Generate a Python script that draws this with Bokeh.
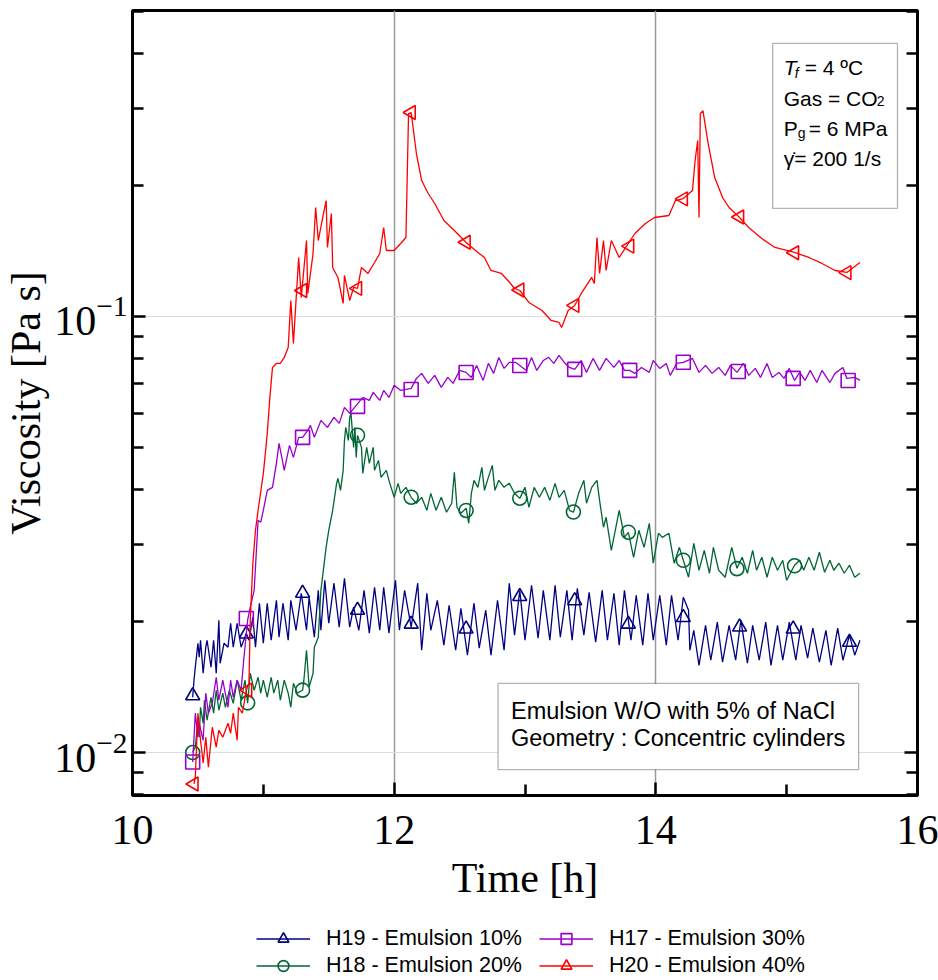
from bokeh.plotting import figure
from bokeh.layouts import column
from bokeh.models import (Range1d, FixedTicker, LogAxis, Legend, LegendItem,
                          Label, BoxAnnotation)
from bokeh.embed import file_html
from bokeh.resources import INLINE

# ---------------- data (time in h, viscosity in Pa s) ----------------
h19_t = [10.46, 10.47, 10.48, 10.50, 10.51, 10.52, 10.54, 10.56, 10.57, 10.60, 10.62, 10.64, 10.66, 10.67,
         10.70, 10.73, 10.75, 10.77, 10.80, 10.83, 10.87, 10.89, 10.92, 10.94, 10.97, 11.00, 11.03, 11.06,
         11.10, 11.12, 11.15, 11.19, 11.21, 11.25, 11.29, 11.33, 11.35, 11.39, 11.42, 11.44, 11.47, 11.50,
         11.54, 11.58, 11.62, 11.66, 11.69, 11.73, 11.77, 11.81, 11.85, 11.89, 11.92, 11.96, 12.01, 12.04,
         12.08, 12.13, 12.18, 12.21, 12.25, 12.28, 12.33, 12.38, 12.42, 12.47, 12.51, 12.56, 12.61, 12.65,
         12.70, 12.74, 12.79, 12.84, 12.88, 12.92, 12.96, 13.00, 13.05, 13.10, 13.14, 13.19, 13.23, 13.27,
         13.32, 13.36, 13.40, 13.45, 13.49, 13.54, 13.59, 13.63, 13.68, 13.72, 13.76, 13.81, 13.85, 13.90,
         13.94, 13.98, 14.03, 14.08, 14.12, 14.17, 14.21, 14.25, 14.26, 14.29, 14.33, 14.38, 14.42, 14.47,
         14.51, 14.56, 14.61, 14.65, 14.70, 14.74, 14.79, 14.84, 14.88, 14.93, 14.97, 15.02, 15.07, 15.11,
         15.16, 15.20, 15.25, 15.30, 15.34, 15.39, 15.43, 15.48, 15.52, 15.56]
h19_v = [0.01339, 0.01465, 0.01569, 0.01781, 0.01654, 0.01809, 0.01520, 0.01744, 0.01809, 0.01569, 0.01809,
         0.01520, 0.02011, 0.01602, 0.01781, 0.01744, 0.01979, 0.01744, 0.01979, 0.01744, 0.01878, 0.01809,
         0.02043, 0.01744, 0.02200, 0.01781, 0.02200, 0.01809, 0.02234, 0.01838, 0.02200, 0.01809, 0.02234,
         0.01907, 0.02319, 0.01907, 0.02270, 0.01838, 0.02355, 0.01907, 0.02483, 0.01979, 0.02445, 0.01938,
         0.02509, 0.01938, 0.02154, 0.01907, 0.02355, 0.01878, 0.02393, 0.01907, 0.02393, 0.01878, 0.02483,
         0.01907, 0.02355, 0.01938, 0.02445, 0.01716, 0.02319, 0.01907, 0.02234, 0.01762, 0.02176, 0.01716,
         0.02142, 0.01672, 0.02200, 0.01735, 0.02120, 0.01672, 0.02234, 0.01716, 0.02445, 0.01858, 0.02355,
         0.01809, 0.02419, 0.01829, 0.02355, 0.01809, 0.02419, 0.01838, 0.02355, 0.01809, 0.02381, 0.01858,
         0.02331, 0.01791, 0.02355, 0.01809, 0.02319, 0.01762, 0.02355, 0.01809, 0.02294, 0.01762, 0.02319,
         0.01809, 0.02294, 0.01762, 0.02294, 0.01809, 0.02270, 0.02120, 0.01716, 0.01907, 0.01585, 0.01958,
         0.01628, 0.01990, 0.01611, 0.01958, 0.01628, 0.02011, 0.01602, 0.01958, 0.01628, 0.01990, 0.01585,
         0.01958, 0.01628, 0.01990, 0.01628, 0.01958, 0.01646, 0.01928, 0.01611, 0.01907, 0.01585, 0.01928,
         0.01628, 0.01858, 0.01672, 0.01809]
h19_mt = [10.46, 10.87, 11.30, 11.72, 12.13, 12.55, 12.96, 13.38, 13.79, 14.21, 14.64, 15.05, 15.48]
h19_mv = [0.0135, 0.0187, 0.0232, 0.0212, 0.0197, 0.0192, 0.0228, 0.0223, 0.0197, 0.0204, 0.0194, 0.0192, 0.0179]

h18_t = [10.46, 10.48, 10.50, 10.51, 10.52, 10.54, 10.55, 10.57, 10.60, 10.62, 10.64, 10.66, 10.69, 10.71,
         10.74, 10.77, 10.80, 10.83, 10.86, 10.88, 10.90, 10.93, 10.96, 10.98, 11.00, 11.03, 11.06, 11.08,
         11.11, 11.13, 11.16, 11.19, 11.21, 11.23, 11.26, 11.30, 11.31, 11.33, 11.35, 11.38, 11.39, 11.42,
         11.44, 11.48, 11.50, 11.53, 11.56, 11.57, 11.59, 11.61, 11.62, 11.63, 11.65, 11.66, 11.67, 11.69,
         11.70, 11.71, 11.72, 11.75, 11.76, 11.79, 11.81, 11.84, 11.85, 11.88, 11.90, 11.94, 11.96, 12.00,
         12.03, 12.05, 12.09, 12.13, 12.17, 12.21, 12.25, 12.28, 12.32, 12.36, 12.40, 12.44, 12.46, 12.48,
         12.51, 12.55, 12.57, 12.59, 12.61, 12.64, 12.67, 12.69, 12.72, 12.75, 12.77, 12.80, 12.84, 12.88,
         12.92, 12.96, 13.00, 13.03, 13.07, 13.11, 13.15, 13.19, 13.23, 13.26, 13.30, 13.34, 13.37, 13.41,
         13.45, 13.47, 13.51, 13.55, 13.57, 13.60, 13.62, 13.66, 13.69, 13.72, 13.76, 13.79, 13.83, 13.87,
         13.91, 13.95, 13.98, 14.02, 14.05, 14.10, 14.14, 14.18, 14.21, 14.25, 14.29, 14.33, 14.37, 14.41,
         14.44, 14.48, 14.53, 14.58, 14.62, 14.66, 14.70, 14.74, 14.77, 14.81, 14.85, 14.89, 14.93, 14.97,
         15.00, 15.06, 15.10, 15.13, 15.17, 15.21, 15.25, 15.29, 15.33, 15.36, 15.40, 15.44, 15.48, 15.52,
         15.56]
h18_v = [0.01002, 0.01029, 0.01187, 0.01084, 0.01270, 0.01167, 0.01318, 0.01187, 0.01339, 0.01231, 0.01389,
         0.01250, 0.01368, 0.01270, 0.01389, 0.01297, 0.01465, 0.01318, 0.01465, 0.01297, 0.01520, 0.01389,
         0.01488, 0.01368, 0.01465, 0.01339, 0.01488, 0.01368, 0.01465, 0.01318, 0.01465, 0.01368, 0.01270,
         0.01442, 0.01368, 0.01389, 0.01465, 0.01716, 0.01412, 0.01520, 0.01744, 0.01838, 0.02355, 0.02955,
         0.03233, 0.03593, 0.04143, 0.04254, 0.03993, 0.04437, 0.05198, 0.05567, 0.05198, 0.05869, 0.05994,
         0.05009, 0.05567, 0.04752, 0.05337, 0.05009, 0.04367, 0.05009, 0.04605, 0.05009, 0.04437, 0.04677,
         0.04276, 0.04437, 0.04209, 0.03848, 0.04143, 0.03930, 0.04056, 0.03848, 0.03729, 0.03848, 0.03593,
         0.03930, 0.03593, 0.03848, 0.03556, 0.03729, 0.04391, 0.03651, 0.03537, 0.03631, 0.03355, 0.03930,
         0.04209, 0.04056, 0.04508, 0.03993, 0.04276, 0.04556, 0.03993, 0.04209, 0.04056, 0.04143, 0.03930,
         0.03827, 0.04056, 0.03651, 0.04056, 0.03848, 0.04056, 0.03787, 0.04143, 0.03848, 0.03993, 0.03593,
         0.03556, 0.03930, 0.04209, 0.03729, 0.04056, 0.04209, 0.03787, 0.03285, 0.03463, 0.02909, 0.03233,
         0.03593, 0.03115, 0.03199, 0.02804, 0.03233, 0.02955, 0.03355, 0.02717, 0.03182, 0.03115, 0.03182,
         0.02717, 0.02955, 0.02760, 0.02523, 0.03019, 0.02618, 0.02909, 0.02577, 0.02955, 0.02618, 0.02523,
         0.02955, 0.02646, 0.02804, 0.02577, 0.02909, 0.02618, 0.02804, 0.02523, 0.02804, 0.02618, 0.02760,
         0.02483, 0.02688, 0.02760, 0.02618, 0.02804, 0.02618, 0.02879, 0.02590, 0.02760, 0.02618, 0.02717,
         0.02577, 0.02688, 0.02523, 0.02577]
h18_mt = [10.46, 10.88, 11.30, 11.72, 12.13, 12.55, 12.96, 13.37, 13.79, 14.21, 14.62, 15.06]
h18_mv = [0.0100, 0.0130, 0.0139, 0.0534, 0.0385, 0.0359, 0.0383, 0.0356, 0.0320, 0.0276, 0.0264, 0.0268]

h17_t = [10.46, 10.48, 10.50, 10.51, 10.54, 10.56, 10.58, 10.61, 10.64, 10.66, 10.69, 10.73, 10.75, 10.77,
         10.80, 10.83, 10.85, 10.88, 10.90, 10.93, 10.96, 10.98, 11.00, 11.03, 11.07, 11.10, 11.12, 11.15,
         11.16, 11.20, 11.23, 11.27, 11.30, 11.34, 11.36, 11.39, 11.44, 11.49, 11.54, 11.58, 11.62, 11.66,
         11.71, 11.76, 11.81, 11.84, 11.89, 11.92, 11.96, 12.00, 12.05, 12.13, 12.17, 12.21, 12.26, 12.31,
         12.36, 12.41, 12.45, 12.50, 12.55, 12.59, 12.63, 12.68, 12.72, 12.76, 12.80, 12.84, 12.88, 12.93,
         12.96, 13.01, 13.05, 13.09, 13.14, 13.18, 13.22, 13.26, 13.30, 13.34, 13.38, 13.43, 13.47, 13.52,
         13.57, 13.62, 13.68, 13.72, 13.76, 13.80, 13.84, 13.89, 13.95, 13.98, 14.03, 14.08, 14.11, 14.16,
         14.21, 14.28, 14.33, 14.38, 14.43, 14.48, 14.53, 14.57, 14.62, 14.67, 14.71, 14.76, 14.80, 14.85,
         14.89, 14.94, 14.98, 15.02, 15.06, 15.10, 15.14, 15.18, 15.23, 15.27, 15.33, 15.37, 15.43, 15.46,
         15.52, 15.56]
h17_v = [0.00951, 0.01231, 0.01084, 0.01167, 0.01067, 0.01368, 0.01231, 0.01297, 0.01488, 0.01318, 0.01465,
         0.01270, 0.01465, 0.01339, 0.01465, 0.01389, 0.01628, 0.02011, 0.02154, 0.02355, 0.03408, 0.03373,
         0.03593, 0.03993, 0.04056, 0.04605, 0.05117, 0.04605, 0.04437, 0.05063, 0.04752, 0.05281, 0.05281,
         0.05480, 0.05627, 0.05281, 0.05776, 0.05567, 0.05869, 0.05687, 0.06187, 0.05994, 0.06253, 0.06522,
         0.06419, 0.06697, 0.06419, 0.06767, 0.06522, 0.06949, 0.06767, 0.06839, 0.07209, 0.07403, 0.07023,
         0.07325, 0.06876, 0.07247, 0.07023, 0.07520, 0.07442, 0.07247, 0.07722, 0.07133, 0.07803, 0.07403,
         0.08054, 0.07600, 0.07845, 0.07845, 0.07722, 0.07520, 0.08054, 0.07520, 0.07927, 0.08054, 0.07803,
         0.08140, 0.07845, 0.07640, 0.07560, 0.07927, 0.07442, 0.08012, 0.07520, 0.08012, 0.07640, 0.07927,
         0.07520, 0.07520, 0.07403, 0.07640, 0.07442, 0.07927, 0.07600, 0.07803, 0.07325, 0.07803, 0.07845,
         0.08012, 0.07442, 0.07722, 0.07403, 0.07640, 0.07325, 0.07722, 0.07442, 0.07803, 0.07325, 0.07600,
         0.07247, 0.07803, 0.07247, 0.07442, 0.07209, 0.07600, 0.07133, 0.07442, 0.07133, 0.07520, 0.07057,
         0.07520, 0.07057, 0.07403, 0.07640, 0.07209, 0.07247, 0.07133]
h17_mt = [10.46, 10.87, 11.30, 11.72, 12.13, 12.55, 12.96, 13.38, 13.80, 14.21, 14.63, 15.05, 15.47]
h17_mv = [0.00951, 0.0203, 0.0528, 0.0622, 0.0680, 0.0744, 0.0772, 0.0756, 0.0752, 0.0785, 0.0748, 0.0721, 0.0713]

h20_t = [10.47, 10.48, 10.50, 10.52, 10.54, 10.56, 10.58, 10.61, 10.64, 10.66, 10.69, 10.73, 10.75, 10.77,
         10.80, 10.81, 10.84, 10.87, 10.89, 10.90, 10.92, 10.94, 10.96, 11.00, 11.02, 11.03, 11.05, 11.07,
         11.10, 11.13, 11.16, 11.19, 11.21, 11.23, 11.27, 11.29, 11.33, 11.34, 11.38, 11.40, 11.42, 11.46,
         11.48, 11.49, 11.52, 11.53, 11.57, 11.61, 11.62, 11.66, 11.69, 11.72, 11.75, 11.80, 11.85, 11.89,
         11.92, 11.94, 12.00, 12.05, 12.09, 12.11, 12.13, 12.17, 12.21, 12.26, 12.31, 12.38, 12.46, 12.55,
         12.64, 12.69, 12.74, 12.82, 12.87, 12.92, 12.96, 13.03, 13.13, 13.20, 13.26, 13.28, 13.33, 13.38,
         13.43, 13.51, 13.53, 13.55, 13.57, 13.60, 13.62, 13.66, 13.72, 13.79, 13.84, 13.92, 13.99, 14.10,
         14.15, 14.21, 14.28, 14.30, 14.32, 14.33, 14.34, 14.36, 14.40, 14.45, 14.51, 14.56, 14.64, 14.71,
         14.81, 14.91, 15.06, 15.17, 15.27, 15.37, 15.46, 15.56]
h20_v = [0.00847, 0.00878, 0.01231, 0.01067, 0.00946, 0.01084, 0.00926, 0.01143, 0.01029, 0.01125, 0.01084,
         0.01167, 0.01107, 0.01231, 0.01067, 0.01270, 0.01231, 0.01389, 0.01442, 0.02011, 0.02717, 0.03233,
         0.03593, 0.04367, 0.05009, 0.05393, 0.06522, 0.07640, 0.07803, 0.07803, 0.08054, 0.08491, 0.10880,
         0.08673, 0.13652, 0.11054, 0.14932, 0.11291, 0.13944, 0.17774, 0.14932, 0.17222, 0.18441, 0.14392,
         0.17222, 0.12950, 0.12285, 0.10711, 0.12415, 0.10880, 0.11653, 0.11592, 0.12950, 0.12548, 0.13298,
         0.13944, 0.15993, 0.14164, 0.14164, 0.14700, 0.15172, 0.29190, 0.29345, 0.23636, 0.20494, 0.19138,
         0.18154, 0.16594, 0.15741, 0.14778, 0.14018, 0.13652, 0.12746, 0.12548, 0.12091, 0.11592, 0.11469,
         0.10768, 0.10321, 0.09790, 0.09689, 0.09436, 0.10321, 0.10598, 0.11291, 0.12285, 0.11902, 0.15172,
         0.12548, 0.14932, 0.12746, 0.14932, 0.13652, 0.14700, 0.15496, 0.16335, 0.16861, 0.17040, 0.18441,
         0.18638, 0.19440, 0.22775, 0.25310, 0.16861, 0.29190, 0.29651, 0.24916, 0.20822, 0.18737, 0.17774,
         0.16861, 0.15993, 0.15092, 0.14392, 0.14018, 0.13652, 0.13228, 0.12746, 0.12614, 0.13298]
h20_mt = [10.47, 10.88, 11.30, 11.72, 12.13, 12.55, 12.96, 13.38, 13.80, 14.21, 14.64, 15.06, 15.46]
h20_mv = [0.00847, 0.0139, 0.1147, 0.116, 0.2935, 0.148, 0.115, 0.106, 0.145, 0.186, 0.169, 0.140, 0.126]

labels = ["H19 - Emulsion 10%", "H18 - Emulsion 20%", "H17 - Emulsion 30%", "H20 - Emulsion 40%"]
x_major = [10, 12, 14, 16]
x_minor = [11, 13, 15]
y_major = [0.01, 0.1]
y_minor = [0.008, 0.009, 0.02, 0.03, 0.04, 0.05, 0.06, 0.07, 0.08, 0.09, 0.2, 0.3, 0.4, 0.5]

serif = "Liberation Serif"
sans = "Liberation Sans"

# ---------------- main figure ----------------
p = figure(width=938, height=920, x_range=Range1d(10, 16), y_range=Range1d(0.00797, 0.503),
           y_axis_type="log", output_backend="svg", toolbar_location=None,
           min_border_left=131, min_border_right=21, min_border_top=10, min_border_bottom=125)
p.background_fill_color = "white"
p.border_fill_color = "white"
p.outline_line_color = "black"
p.outline_line_width = 3

p.xgrid.ticker = FixedTicker(ticks=[12, 14])
p.xgrid.grid_line_color = "#9a9a9a"
p.xgrid.grid_line_width = 1.5
p.ygrid.ticker = FixedTicker(ticks=y_major)
p.ygrid.grid_line_color = "#dddddd"
p.ygrid.grid_line_width = 1.2

xa = p.xaxis[0]
xa.ticker = FixedTicker(ticks=x_major, minor_ticks=x_minor)
ya = p.yaxis[0]
ya.ticker = FixedTicker(ticks=y_major, minor_ticks=y_minor)
for ax in (xa, ya):
    ax.axis_line_color = None
    ax.major_tick_in = 13
    ax.major_tick_out = 0
    ax.minor_tick_in = 11
    ax.minor_tick_out = 0
    ax.major_tick_line_width = 2.5
    ax.minor_tick_line_width = 2.5
    ax.major_tick_line_color = "black"
    ax.minor_tick_line_color = "black"
    ax.major_label_text_font = serif
    ax.major_label_text_font_size = "42px"
    ax.major_label_text_color = "black"
    ax.axis_label_text_font = serif
    ax.axis_label_text_font_style = "normal"
    ax.axis_label_text_color = "black"
xa.axis_label = "Time [h]"
xa.axis_label_text_font_size = "42px"
xa.major_label_standoff = 20
xa.axis_label_standoff = 8
ya.axis_label = "Viscosity [Pa s]"
ya.axis_label_text_font_size = "42px"
ya.major_label_standoff = 5
ya.axis_label_standoff = 2

ra = LogAxis(ticker=FixedTicker(ticks=y_major, minor_ticks=y_minor),
             axis_line_color=None, major_tick_in=13, major_tick_out=0,
             minor_tick_in=11, minor_tick_out=0, major_tick_line_width=2.5,
             minor_tick_line_width=2.5, major_label_text_font_size="2px",
             major_label_text_alpha=0, major_label_standoff=0)
p.add_layout(ra, "right")

series = [
    (h19_t, h19_v, h19_mt, h19_mv, "#000080", "triangle", 0.0),
    (h18_t, h18_v, h18_mt, h18_mv, "#006633", "circle", 0.0),
    (h17_t, h17_v, h17_mt, h17_mv, "#9900CC", "square", 0.0),
    (h20_t, h20_v, h20_mt, h20_mv, "#FF0000", "triangle", 1.5708),
]
for (t, v, mt, mv, col, mk, ang) in series:
    p.line(t, v, line_color=col, line_width=1.3)
    p.scatter(mt, mv, marker=mk, size=14, angle=ang, line_color=col,
              line_width=1.6, fill_alpha=0)

# annotation boxes
p.add_layout(BoxAnnotation(left=14.893, right=15.847, top=0.4228, bottom=0.1769,
                           fill_color="white", fill_alpha=1, line_color="black", line_width=1.3))
p.add_layout(BoxAnnotation(left=12.794, right=15.550, top=0.01440, bottom=0.00914,
                           fill_color="white", fill_alpha=1, line_color="black", line_width=1.3))

def lab(x, y, text, size="20px", style="normal", dx=0, dy=0):
    p.add_layout(Label(x=x, y=y, text=text, text_font=sans, text_font_size=size,
                       text_font_style=style, text_baseline="middle", text_align="left",
                       x_offset=dx, y_offset=dy, text_color="black"))

bx = 14.977
lab(bx, 0.3725, "T", size="21px", style="italic")
lab(bx, 0.3725, "f", size="14px", style="italic", dx=11, dy=-6)
lab(bx, 0.3725, "= 4 ºC", size="21px", dx=21)
lab(bx, 0.3162, "Gas = CO", size="21px")
lab(bx, 0.3162, "2", size="14px", dx=93, dy=-3)
lab(bx, 0.2699, "P", size="21px")
lab(bx, 0.2699, "g", size="14px", dx=14, dy=-5)
lab(bx, 0.2699, "= 6 MPa", size="21px", dx=25)
lab(bx, 0.2304, "\u03b3\u0307= 200 1/s", size="21px")

lab(12.893, 0.01248, "Emulsion W/O with 5% of NaCl", size="23.5px")
lab(12.893, 0.01077, "Geometry : Concentric cylinders", size="23.5px")

# ---------------- legend strip under the chart ----------------
# The series are drawn again here, but fall outside this strip's ranges, so only the legend shows.
lf = figure(width=938, height=60, x_range=Range1d(0, 1), y_range=Range1d(0, 1),
            output_backend="svg", toolbar_location=None, min_border=0,
            x_axis_location=None, y_axis_location=None)
lf.outline_line_color = None
lf.grid.visible = False
lf.background_fill_color = "white"
lf.border_fill_color = "white"

items = []
for (t, v, mt, mv, col, mk, ang), lbl in zip(series, labels):
    ln = lf.line(t, v, line_color=col, line_width=1.3)
    sc = lf.scatter(mt, mv, marker=mk, size=14, angle=ang, line_color=col,
                    line_width=1.6, fill_alpha=0)
    items.append(LegendItem(label=lbl, renderers=[ln, sc]))

leg_kw = dict(orientation="vertical", border_line_color=None, background_fill_alpha=0,
              label_text_font=sans, label_text_font_size="21.5px", label_text_color="black",
              glyph_width=54, glyph_height=27, label_height=27, label_standoff=16,
              spacing=0, padding=0, margin=0)
lf.add_layout(Legend(items=items[:2], location=(124, 1), **leg_kw), "center")
lf.add_layout(Legend(items=items[2:], location=(407, 1), **leg_kw), "center")

layout = column(p, lf, spacing=0)
open("out.html", "w").write(file_html(layout, INLINE))
